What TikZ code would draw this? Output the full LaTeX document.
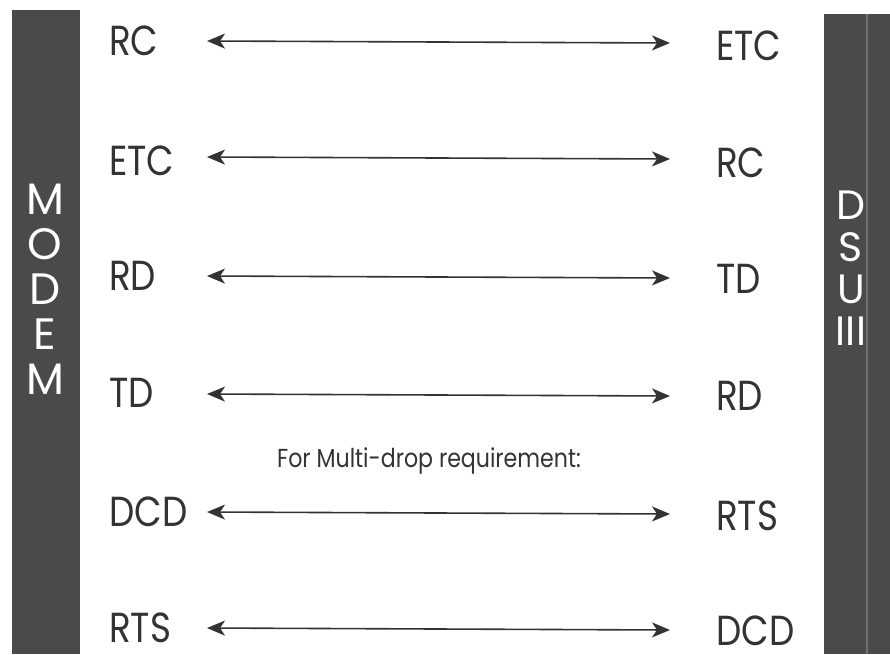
\documentclass[tikz,border=0pt]{standalone}
\usepackage{fontspec}
\setmainfont{Poppins}[FakeStretch=0.85]
\newfontfamily\barfont{Poppins}
\usetikzlibrary{arrows.meta}
\definecolor{bar}{HTML}{4A4A4A}
\definecolor{barline}{HTML}{707070}
\definecolor{ink}{HTML}{333333}
\begin{document}
\begin{tikzpicture}[x=1pt,y=-1pt,
  lbl/.style={anchor=base west,inner sep=0pt,text=ink,font=\fontsize{42}{42}\selectfont},
  bartext/.style={inner sep=0pt,text=white,align=center},
  conn/.style={draw=ink,line width=1.6pt,{Stealth[length=18pt,width=15pt,inset=5pt]}-{Stealth[length=18pt,width=15pt,inset=5pt]}}]
\useasboundingbox (0,0) rectangle (890,654);
\fill[white] (0,0) rectangle (890,654);
% bars
\fill[bar] (12,10) rectangle (80,654);
\fill[bar] (824,14) rectangle (890,654);
\draw[barline,line width=2pt] (867,14) -- (867,654);
\node[bartext,font=\barfont\fontsize{44}{45}\selectfont] (modem) at (45,289) {M\\O\\D\\E\\M};
\node[bartext,font=\barfont\fontsize{41}{42}\selectfont] (dsu) at (851,268) {D\\S\\U\\III};
% labels
\foreach \n/\l/\r/\yl/\yr/\ya in {1/RC/ETC/55/60/41,2/ETC/RC/175/177/157,3/RD/TD/290/293/276,4/TD/RD/407/410/394,5/DCD/RTS/526/530/512,6/RTS/DCD/642/645/628}{
  \node[lbl] (l\n) at (109,\yl) {\l};
  \node[lbl] (r\n) at (716,\yr) {\r};
  \coordinate (a\n) at (207,\ya);
  \coordinate (b\n) at (670,\ya+2);
  \draw[conn] (a\n) -- (b\n);
}
\node[anchor=base,text=ink,inner sep=0pt,font=\fontsize{26}{26}\selectfont] (note) at (429,467) {For Multi-drop requirement:};
\end{tikzpicture}
\end{document}
